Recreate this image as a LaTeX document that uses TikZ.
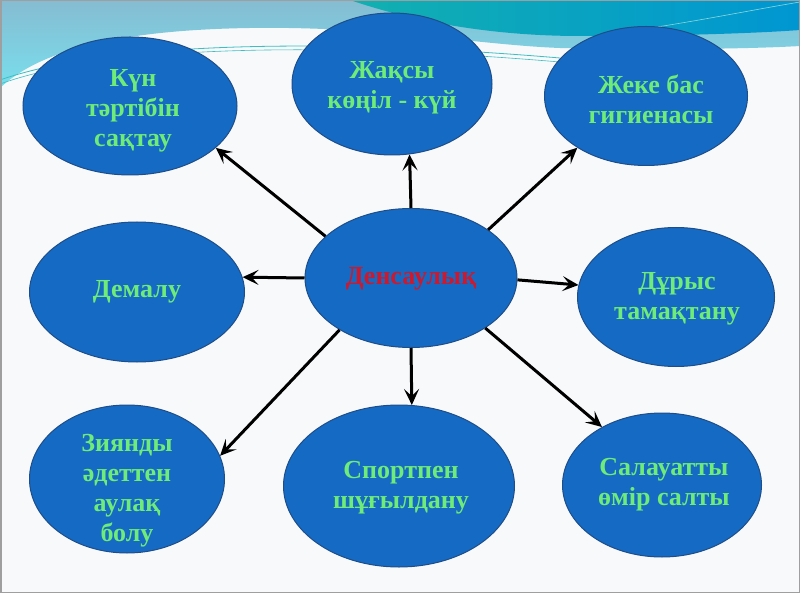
\documentclass[tikz,border=0pt]{standalone}
\usepackage{fontspec}
\setmainfont{Liberation Serif}
\usetikzlibrary{shapes.geometric,arrows.meta}
\definecolor{bgw}{RGB}{248,249,251}
\definecolor{lbA}{RGB}{134,188,210}
\definecolor{lbB}{RGB}{120,222,236}
\definecolor{tealA}{RGB}{18,176,176}
\definecolor{tealB}{RGB}{0,150,210}
\definecolor{thinl}{RGB}{60,190,195}
\definecolor{ellfill}{RGB}{21,106,196}
\definecolor{elldraw}{RGB}{30,78,137}
\definecolor{txtgreen}{RGB}{110,235,120}
\definecolor{txtred}{RGB}{205,25,45}
\tikzset{
  bubble/.style={ellipse, fill=ellfill, draw=elldraw, line width=1pt, inner sep=0pt},
  btext/.style={align=center, text=txtgreen, font=\fontsize{26}{30}\selectfont\bfseries, inner sep=0pt},
  arr/.style={line width=3pt, -{Stealth[length=16pt,width=15pt,inset=7pt]}}
}
\begin{document}
\begin{tikzpicture}[x=1pt,y=-1pt]
\useasboundingbox (0,0) rectangle (800,593);
% background
\fill[bgw] (0,0) rectangle (800,593);
\shade[top color=lbA, bottom color=lbB]
  (0,0) -- (800,0) -- (800,46)
  .. controls (750,49) and (650,50) .. (560,48)
  .. controls (480,45) and (380,26) .. (250,28)
  .. controls (120,30) and (40,50) .. (0,88) -- cycle;
\shade[left color=tealA, right color=tealB]
  (350,0) .. controls (420,24) and (500,36) .. (580,36)
  .. controls (680,36) and (760,33) .. (800,30) -- (800,0) -- cycle;
\draw[thinl, line width=0.8pt] (0,80) .. controls (100,45) and (300,36) .. (560,58);
\draw[thinl, line width=0.6pt] (0,84) .. controls (100,48) and (300,40) .. (560,62);
\draw[thinl!60!white, line width=0.6pt] (600,35) .. controls (680,25) and (740,12) .. (800,2);
\draw[gray!75, line width=1.5pt] (0.75,0.75) rectangle (799.25,592.25);
% bubbles
\node[bubble, minimum width=214pt, minimum height=138pt] (kun) at (130,106) {};
\node[bubble, minimum width=200pt, minimum height=142pt] (zh) at (392,84) {};
\node[bubble, minimum width=203pt, minimum height=139pt] (jeke) at (646,96) {};
\node[bubble, minimum width=215pt, minimum height=140pt] (dem) at (137,292) {};
\node[bubble, minimum width=212pt, minimum height=139pt] (c) at (411,278) {};
\node[bubble, minimum width=197pt, minimum height=139pt] (dur) at (676,297) {};
\node[bubble, minimum width=195pt, minimum height=148pt] (ziy) at (127,479) {};
\node[bubble, minimum width=231pt, minimum height=162pt] (sport) at (399,486) {};
\node[bubble, minimum width=199pt, minimum height=144pt] (sal) at (662,485) {};
% texts
\node[btext] (kunT) at (133,111) {Күн\\тәртібін\\сақтау};
\node[btext] (zhT) at (392,88) {Жақсы\\көңіл - күй};
\node[btext] (jekeT) at (651,99) {Жеке бас\\гигиенасы};
\node[btext] (demT) at (137,292) {Демалу};
\node[btext, text=txtred] (cT) at (411,279) {Денсаулық};
\node[btext] (durT) at (677,299) {Дұрыс\\тамақтану};
\node[btext] (ziyT) at (127,491) {Зиянды\\әдеттен\\аулақ\\болу};
\node[btext] (sportT) at (401,488) {Спортпен\\шұғылдану};
\node[btext] (salT) at (664,485) {Салауатты\\өмір салты};
% arrows
\draw[arr] (c.154.5) -- (kun.-26.6);
\draw[arr] (c.90) -- (zh.-76);
\draw[arr] (c.32) -- (jeke.-143);
\draw[arr] (c.180) -- (dem.8);
\draw[arr] (c.-1) -- (dur.173);
\draw[arr] (c.-144.5) -- (ziy.14.8);
\draw[arr] (c.-90) -- (sport.81.6);
\draw[arr] (c.-34) -- (sal.136);
\end{tikzpicture}
\end{document}
